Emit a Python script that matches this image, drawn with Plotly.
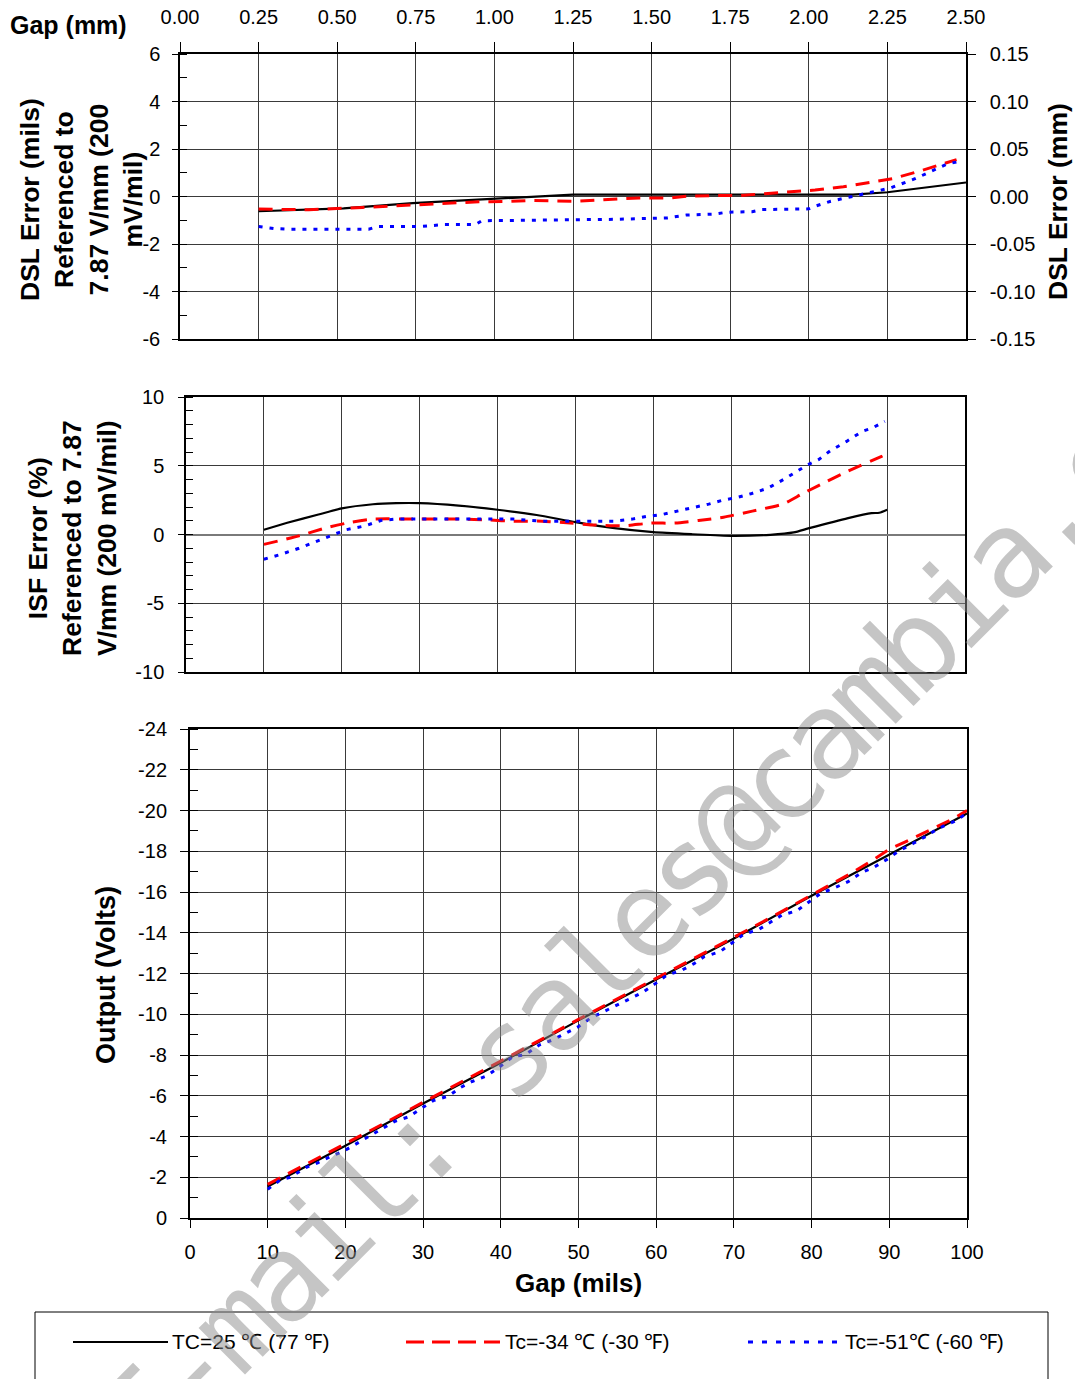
import plotly.graph_objects as go

# ---------------- data ----------------
# Top panel: DSL error (mils) vs gap (mm)
dsl_x_black = [0.25, 0.52, 0.74, 1.0, 1.14, 1.25, 1.5, 1.75, 2.0, 2.14, 2.25, 2.5]
dsl_black = [-0.62, -0.5, -0.28, -0.11, 0.0, 0.08, 0.08, 0.08, 0.08, 0.08, 0.18, 0.59]
dsl_x_red = [0.25, 0.41, 0.58, 0.68, 0.76, 0.86, 0.95, 1.04, 1.11, 1.26, 1.36, 1.46, 1.56,
             1.61, 1.7, 1.78, 1.87, 1.95, 2.02, 2.11, 2.19, 2.27, 2.35, 2.44, 2.47]
dsl_red = [-0.53, -0.56, -0.46, -0.39, -0.36, -0.28, -0.22, -0.21, -0.17, -0.2, -0.13, -0.06, -0.06,
           0.01, 0.04, 0.04, 0.13, 0.22, 0.27, 0.41, 0.57, 0.76, 1.06, 1.45, 1.55]
dsl_x_blue = [0.25, 0.3, 0.35, 0.6, 0.63, 0.77, 0.84, 0.94, 0.96, 1.14, 1.39, 1.55, 1.61, 1.7,
              1.74, 1.82, 1.85, 2.0, 2.02, 2.07, 2.17, 2.26, 2.34, 2.44, 2.47]
dsl_blue = [-1.26, -1.35, -1.38, -1.38, -1.26, -1.26, -1.18, -1.18, -1.02, -1.0, -0.96, -0.9, -0.78, -0.74,
            -0.66, -0.64, -0.55, -0.52, -0.41, -0.2, 0.08, 0.36, 0.76, 1.37, 1.45]

# Middle panel: ISF error (%) vs gap (mils)
isf_x_black = [10, 13, 17, 20, 24, 27, 30, 35, 40, 45, 50, 55, 60, 65, 70, 75, 78, 80, 85, 88, 89, 90]
isf_black = [0.35, 0.85, 1.45, 1.9, 2.2, 2.28, 2.28, 2.1, 1.8, 1.42, 0.9, 0.46, 0.17, 0.02, -0.1, -0.02,
             0.15, 0.46, 1.19, 1.55, 1.58, 1.8]
isf_x_red = [10, 14.5, 18, 21, 24, 30, 35, 39, 42, 45.7, 49.3, 52.2, 56.1, 59.7, 62.8, 65.8, 69,
             72.7, 76.7, 79.1, 81, 84.9, 89.3, 90]
isf_red = [-0.72, -0.1, 0.49, 0.87, 1.12, 1.12, 1.12, 1.05, 0.97, 0.97, 0.83, 0.7, 0.63, 0.83, 0.83, 1.02, 1.26,
           1.7, 2.23, 2.96, 3.5, 4.59, 5.68, 5.87]
isf_x_blue = [10, 12, 14.5, 17, 19, 20.5, 23, 25, 27, 35, 42, 45.7, 49.7, 52.7, 54.9, 57.3, 59.1, 60.9,
              62.8, 65, 67.1, 68.8, 70.9, 72.5, 74.7, 76.8, 78.5, 79.8, 81.2, 82.7, 84.8, 86.8, 88.1, 89.7]
isf_blue = [-1.8, -1.48, -1.0, -0.44, -0.02, 0.34, 0.63, 1.02, 1.12, 1.12, 1.12, 0.97, 0.95, 0.97, 0.97,
            1.12, 1.31, 1.43, 1.67, 1.92, 2.21, 2.48, 2.72, 2.96, 3.37, 4.03, 4.59, 5.07, 5.44, 6.09,
            6.77, 7.5, 7.74, 8.23]

# Bottom panel: output (volts) vs gap (mils)
out_x_black = [10, 20, 30, 40, 50, 60, 70, 80, 90, 100]
out_black = [-1.55, -3.55, -5.62, -7.62, -9.7, -11.7, -13.72, -15.82, -17.82, -19.85]
out_x_red = [10, 15, 20, 25, 30, 35, 40, 45, 50, 55, 60, 65, 70, 75, 80, 85, 88, 90, 92, 95, 98, 100]
out_red = [-1.65, -2.65, -3.62, -4.65, -5.68, -6.68, -7.68, -8.72, -9.75, -10.75, -11.75, -12.75,
           -13.78, -14.8, -15.85, -16.9, -17.6, -18.1, -18.45, -19.0, -19.55, -20.0]
out_x_blue = [10, 11.6, 12.9, 14.9, 16.5, 18.2, 19.8, 24.5, 26.4, 28.1, 29.7, 31.3, 33.3, 34.8, 36.3,
              38.2, 39.7, 41.6, 43.1, 45, 46.6, 48.4, 50, 51.5, 53.3, 55, 56.5, 58.2, 59.8, 61.4, 63.2,
              64.8, 66.2, 68.2, 69.8, 71.3, 73.1, 74.7, 76.2, 78.1, 79.6, 81.2, 83, 84.7, 86.5, 88,
              89.7, 91.3, 93.1, 94.8, 96.3, 98.3, 99.8]
out_blue = [-1.41, -1.86, -2.0, -2.47, -2.72, -3.04, -3.29, -4.35, -4.75, -4.96, -5.35, -5.76, -5.99,
            -6.4, -6.7, -6.98, -7.37, -7.93, -8.0, -8.5, -8.73, -9.07, -9.39, -9.8, -10.13, -10.45,
            -10.73, -11.06, -11.48, -11.93, -12.14, -12.47, -12.83, -13.07, -13.51, -13.94, -14.14,
            -14.51, -14.87, -15.08, -15.48, -15.94, -16.21, -16.51, -16.97, -17.21, -17.6, -18.03,
            -18.39, -18.75, -19.12, -19.45, -19.81]

# tick labels
top_x_vals = [0.0, 0.25, 0.5, 0.75, 1.0, 1.25, 1.5, 1.75, 2.0, 2.25, 2.5]
top_x_text = ["0.00", "0.25", "0.50", "0.75", "1.00", "1.25", "1.50", "1.75", "2.00", "2.25", "2.50"]
top_y_vals = [6, 4, 2, 0, -2, -4, -6]
top_y_text = ["6", "4", "2", "0", "-2", "-4", "-6"]
mm_y_vals = [0.15, 0.10, 0.05, 0.0, -0.05, -0.10, -0.15]
mm_y_text = ["0.15", "0.10", "0.05", "0.00", "-0.05", "-0.10", "-0.15"]
mid_y_vals = [10, 5, 0, -5, -10]
mid_y_text = ["10", "5", "0", "-5", "-10"]
bot_y_vals = [0, -2, -4, -6, -8, -10, -12, -14, -16, -18, -20, -22, -24]
bot_y_text = ["0", "-2", "-4", "-6", "-8", "-10", "-12", "-14", "-16", "-18", "-20", "-22", "-24"]
bot_x_vals = [0, 10, 20, 30, 40, 50, 60, 70, 80, 90, 100]
series_names = ["TC=25 \u2103 (77 \u2109)", "Tc=-34 \u2103 (-30 \u2109)", "Tc=-51\u2103 (-60 \u2109)"]
watermark_text = "E-mail: sales@cambia.cn"

# ---------------- styling ----------------
W, H = 1075, 1379
FONT = "Liberation Sans, Arial, sans-serif"
GRID = "#3a3a3a"
RED_DASH = "14px,9px"
BLUE_DOT = "4px,7px"


def dx(a, b):
    return [a / W, b / W]


def dy(top, bottom):
    return [1 - bottom / H, 1 - top / H]


black_line = dict(color="black", width=2.2)
red_line = dict(color="#ff0000", width=3, dash=RED_DASH)
blue_line = dict(color="#0000ff", width=3, dash=BLUE_DOT)

fig = go.Figure()

# top
fig.add_trace(go.Scatter(x=dsl_x_black, y=dsl_black, mode="lines", line=black_line, xaxis="x", yaxis="y", showlegend=False))
fig.add_trace(go.Scatter(x=dsl_x_red, y=dsl_red, mode="lines", line=red_line, xaxis="x", yaxis="y", showlegend=False))
fig.add_trace(go.Scatter(x=dsl_x_blue, y=dsl_blue, mode="lines", line=blue_line, xaxis="x", yaxis="y", showlegend=False))
fig.add_trace(go.Scatter(x=[None], y=[None], mode="lines", xaxis="x", yaxis="y4", showlegend=False, hoverinfo="skip"))

# middle
fig.add_trace(go.Scatter(x=isf_x_black, y=isf_black, mode="lines", line=dict(black_line, shape="spline", smoothing=0.6), xaxis="x2", yaxis="y2", showlegend=False))
fig.add_trace(go.Scatter(x=isf_x_red, y=isf_red, mode="lines", line=dict(red_line, shape="spline", smoothing=0.6), xaxis="x2", yaxis="y2", showlegend=False))
fig.add_trace(go.Scatter(x=isf_x_blue, y=isf_blue, mode="lines", line=blue_line, xaxis="x2", yaxis="y2", showlegend=False))

# bottom
fig.add_trace(go.Scatter(x=out_x_black, y=out_black, mode="lines", line=black_line, xaxis="x3", yaxis="y3", showlegend=False))
fig.add_trace(go.Scatter(x=out_x_red, y=out_red, mode="lines", line=red_line, xaxis="x3", yaxis="y3", showlegend=False))
fig.add_trace(go.Scatter(x=out_x_blue, y=out_blue, mode="lines", line=blue_line, xaxis="x3", yaxis="y3", showlegend=False))

tickfont = dict(family=FONT, size=20, color="black")
common = dict(showline=True, linecolor="black", linewidth=1.5, gridcolor=GRID, gridwidth=1,
              zeroline=False, tickfont=tickfont, tickcolor="black", ticks="outside",
              automargin=False)

fig.update_layout(
    template="none",
    width=W, height=H,
    margin=dict(l=0, r=0, t=0, b=0, pad=0),
    paper_bgcolor="white", plot_bgcolor="white",
    font=dict(family=FONT, color="black"),
    showlegend=False,
    xaxis=dict(common, domain=dx(180, 966), range=[0, 2.5], side="top", anchor="y",
               tickvals=top_x_vals, ticktext=top_x_text, ticklen=10, mirror=True,
               ticklabelstandoff=10),
    yaxis=dict(common, domain=dy(54, 339), range=[-6, 6], anchor="x",
               tickvals=top_y_vals, ticktext=top_y_text, ticklen=6, ticklabelstandoff=8,
               minor=dict(dtick=1, ticks="inside", ticklen=7, tickcolor="black", showgrid=False)),
    yaxis4=dict(common, overlaying="y", side="right", anchor="x", range=[-0.15, 0.15],
                tickvals=mm_y_vals, ticktext=mm_y_text, showgrid=False, ticklen=8,
                ticklabelstandoff=10),
    xaxis2=dict(common, domain=dx(186, 965), range=[0, 100], anchor="y2", dtick=10,
                showticklabels=False, ticks="", mirror=True),
    yaxis2=dict(common, domain=dy(397, 672), range=[-10, 10], anchor="x2",
                tickvals=mid_y_vals, ticktext=mid_y_text, ticklen=6, mirror=True, ticklabelstandoff=10,
                zeroline=True, zerolinecolor="#7a7a7a", zerolinewidth=2,
                minor=dict(dtick=1, ticks="inside", ticklen=7, tickcolor="black", showgrid=False)),
    xaxis3=dict(common, domain=dx(190, 967), range=[0, 100], anchor="y3",
                tickvals=bot_x_vals, ticklen=8, mirror=True, ticklabelstandoff=7, linewidth=2),
    yaxis3=dict(common, domain=dy(729, 1218), range=[0, -24], anchor="x3",
                tickvals=bot_y_vals, ticktext=bot_y_text, ticklen=8, mirror=True, ticklabelstandoff=9,
                linewidth=2,
                minor=dict(dtick=1, ticks="inside", ticklen=8, tickcolor="black", showgrid=False)),
)

ann = []


def txt(x, y, text, size, bold=False, angle=0, xanchor="center", color="black"):
    ann.append(dict(x=x / W, y=1 - y / H, xref="paper", yref="paper", text=("<b>%s</b>" % text) if bold else text,
                    showarrow=False, textangle=angle, xanchor=xanchor, yanchor="middle",
                    font=dict(family=FONT, size=size, color=color)))


txt(8, 25, "Gap (mm)", 25, bold=True, xanchor="left")
txt(81, 200, "DSL Error (mils)<br>Referenced to<br>7.87 V/mm (200<br>mV/mil)", 26.5, bold=True, angle=-90)
txt(1058, 202, "DSL Error (mm)", 26.5, bold=True, angle=-90)
txt(72, 538, "ISF Error (%)<br>Referenced to 7.87<br>V/mm (200 mV/mil)", 26.5, bold=True, angle=-90)
txt(106, 975, "Output (Volts)", 27, bold=True, angle=-90)
txt(578, 1283, "Gap (mils)", 26, bold=True)

# legend
shapes = [dict(type="rect", xref="paper", yref="paper", x0=35 / W, x1=1048 / W, y0=1 - 1400 / H,
               y1=1 - 1312 / H, line=dict(color="black", width=1), fillcolor="rgba(0,0,0,0)")]
leg_lines = [(73, 168, dict(color="black", width=2)),
             (406, 500, dict(color="#ff0000", width=3, dash="18px,8px")),
             (748, 840, dict(color="#0000ff", width=3, dash="5px,9px"))]
for (a, b, ln) in leg_lines:
    shapes.append(dict(type="line", xref="paper", yref="paper", x0=a / W, x1=b / W,
                       y0=1 - 1342 / H, y1=1 - 1342 / H, line=ln))
for xpos, name in zip([170, 503, 843], series_names):
    txt(xpos, 1341, name, 21, xanchor="left")

# watermark (monospaced, evenly spaced letters)
ann.append(dict(x=640 / W, y=1 - 920 / H, xref="paper", yref="paper",
                text='<span style="letter-spacing:-8.3px">%s</span>' % watermark_text,
                showarrow=False, textangle=-45, xanchor="center", yanchor="middle",
                font=dict(family="DejaVu Sans Mono, monospace", size=120, color="rgba(140,140,140,0.5)")))

fig.update_layout(annotations=ann, shapes=shapes)
fig.write_html("out.html", config={"displayModeBar": False},
               post_script="document.body.style.margin='0';document.body.style.overflow='hidden';")
